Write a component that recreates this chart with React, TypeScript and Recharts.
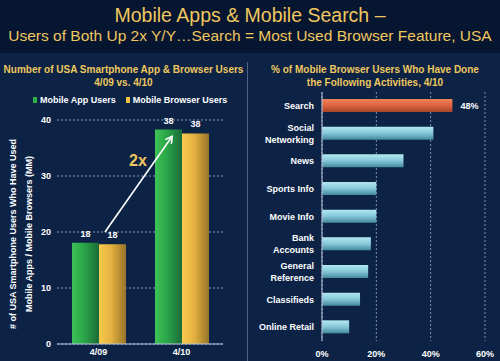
import { BarChart, Bar, XAxis, YAxis, CartesianGrid, LabelList, Cell } from "recharts";

const periods = ["4/09", "4/10"];
const appUsers = [18.1, 38.3];
const browserUsers = [17.8, 37.6];
const userTicks = [0, 10, 20, 30, 40];

const activities = [
  "Search",
  "Social\nNetworking",
  "News",
  "Sports Info",
  "Movie Info",
  "Bank\nAccounts",
  "General\nReference",
  "Classifieds",
  "Online Retail",
];
const activityPct = [48, 41, 30, 20, 20, 18, 17, 14, 10];
const pctTicks = [0, 20, 40, 60];

const usersData = periods.map((p, i) => ({ period: p, app: appUsers[i], browser: browserUsers[i] }));
const activityData = activities.map((a, i) => ({
  name: a,
  pct: activityPct[i],
  label: i === 0 ? `${activityPct[i]}%` : undefined,
}));

const GOLD = "#efc75e";
const BG = "#0c2346";
const FONT = "'Liberation Sans', Arial, sans-serif";

const ActivityTick = (props: any) => {
  const { x, y, payload } = props;
  const lines = String(payload.value).split("\n");
  const lh = 12;
  const start = -((lines.length - 1) * lh) / 2;
  return (
    <text x={x} y={y} textAnchor="end" fill="#fff" fontSize={9} fontWeight="bold" fontFamily={FONT}>
      {lines.map((l, i) => (
        <tspan key={i} x={x} y={y + start + i * lh} dy="0.35em">
          {l}
        </tspan>
      ))}
    </text>
  );
};

export default function App() {
  const abs = (s: any) => ({ position: "absolute" as const, ...s });
  return (
    <div style={{ position: "relative", width: 500, height: 361, background: BG, fontFamily: FONT, overflow: "hidden" }}>
      <style>{`body{margin:0}`}</style>
      <div style={abs({ left: 0, top: 0, width: 500, height: 53, background: "#061530" })} />
      <div style={abs({ left: 0, top: 3, width: 500, textAlign: "center", color: GOLD, fontSize: 19.5, lineHeight: "24px" })}>
        Mobile Apps &amp; Mobile Search –
      </div>
      <div style={abs({ left: 0, top: 26, width: 500, textAlign: "center", color: GOLD, fontSize: 15.5, lineHeight: "20px" })}>
        Users of Both Up 2x Y/Y…Search = Most Used Browser Feature, USA
      </div>
      <div style={abs({ left: 247, top: 62, width: 1, height: 299, background: "#4c6284" })} />

      <div style={abs({ left: 0, top: 63, width: 247, textAlign: "center", color: GOLD, fontSize: 10, fontWeight: "bold", lineHeight: "13px" })}>
        Number of USA Smartphone App &amp; Browser Users
        <br />
        4/09 vs. 4/10
      </div>
      <div style={abs({ left: 250, top: 63, width: 250, textAlign: "center", color: GOLD, fontSize: 10, fontWeight: "bold", lineHeight: "13px" })}>
        % of Mobile Browser Users Who Have Done
        <br />
        the Following Activities, 4/10
      </div>

      <div style={abs({ left: 33, top: 95, color: "#fff", fontSize: 9, fontWeight: "bold", display: "flex", alignItems: "center", gap: 10, whiteSpace: "nowrap" })}>
        <span style={{ display: "flex", alignItems: "center", gap: 3 }}>
          <span style={{ width: 4, height: 6, background: "#2fb04a", display: "inline-block" }} />
          Mobile App Users
        </span>
        <span style={{ display: "flex", alignItems: "center", gap: 3 }}>
          <span style={{ width: 4, height: 6, background: "#f0c048", display: "inline-block" }} />
          Mobile Browser Users
        </span>
      </div>

      <div
        style={abs({
          left: 21,
          top: 232,
          width: 0,
          height: 0,
          color: "#fff",
          fontSize: 9,
          fontWeight: "bold",
        })}
      >
        <div style={{ position: "absolute", left: -110, top: -14, width: 220, textAlign: "center", transform: "rotate(-90deg)", lineHeight: "16px", whiteSpace: "nowrap" }}>
          # of USA Smartphone Users Who Have Used
          <br />
          Mobile Apps / Mobile Browsers (MM)
        </div>
      </div>

      <div style={abs({ left: 0, top: 0 })}>
        <BarChart width={247} height={361} data={usersData} margin={{ top: 120, right: 24, left: 37, bottom: 0 }} barGap={0}>
          <defs>
            <linearGradient id="gGreen" x1="0" y1="0" x2="1" y2="0">
              <stop offset="0%" stopColor="#3cc257" />
              <stop offset="45%" stopColor="#2aa548" />
              <stop offset="100%" stopColor="#1a6a38" />
            </linearGradient>
            <linearGradient id="gYellow" x1="0" y1="0" x2="1" y2="0">
              <stop offset="0%" stopColor="#f7ca4c" />
              <stop offset="45%" stopColor="#e4b140" />
              <stop offset="100%" stopColor="#977428" />
            </linearGradient>
          </defs>
          <CartesianGrid vertical={false} stroke="#7f93b3" strokeDasharray="2 2" />
          <XAxis
            dataKey="period"
            height={17}
            tickSize={3}
            tickLine={false}
            stroke="#b8c4d8"
            tick={{ fill: "#fff", fontSize: 9, fontWeight: "bold", fontFamily: FONT }}
          />
          <YAxis
            width={20}
            domain={[0, 40]}
            ticks={userTicks}
            axisLine={false}
            tickLine={false}
            tickSize={4}
            tick={{ fill: "#fff", fontSize: 9, fontWeight: "bold", fontFamily: FONT }}
          />
          <Bar dataKey="app" fill="url(#gGreen)" barSize={27} isAnimationActive={false}>
            <LabelList dataKey="app" position="top" offset={6} formatter={(v: any) => Math.round(Number(v))} fill="#fff" fontSize={9} fontWeight="bold" fontFamily={FONT} />
          </Bar>
          <Bar dataKey="browser" fill="url(#gYellow)" barSize={27} isAnimationActive={false}>
            <LabelList dataKey="browser" position="top" offset={6} formatter={(v: any) => Math.round(Number(v))} fill="#fff" fontSize={9} fontWeight="bold" fontFamily={FONT} />
          </Bar>
        </BarChart>
      </div>

      <svg style={abs({ left: 0, top: 0 })} width={247} height={361}>
        <defs>
          <marker id="arrowHead" markerWidth="8" markerHeight="8" refX="5" refY="4" orient="auto" markerUnits="userSpaceOnUse">
            <path d="M0,0 L7,4 L0,8" fill="none" stroke="#fff" strokeWidth={1.6} />
          </marker>
        </defs>
        <line x1={105} y1={232} x2={171} y2={138} stroke="#fff" strokeWidth={1.6} markerEnd="url(#arrowHead)" />
        <text x={138} y={166} textAnchor="middle" fill={GOLD} fontSize={16} fontWeight="bold" fontFamily={FONT}>
          2x
        </text>
      </svg>

      <div style={abs({ left: 247, top: 0 })}>
        <BarChart
          layout="vertical"
          width={253}
          height={361}
          data={activityData}
          margin={{ top: 92, right: 15, left: 0, bottom: 0 }}
        >
          <defs>
            <linearGradient id="gCyan" x1="0" y1="0" x2="0" y2="1">
              <stop offset="0%" stopColor="#b2e8f3" />
              <stop offset="50%" stopColor="#86c8d8" />
              <stop offset="100%" stopColor="#44889c" />
            </linearGradient>
            <linearGradient id="gOrange" x1="0" y1="0" x2="0" y2="1">
              <stop offset="0%" stopColor="#f08058" />
              <stop offset="50%" stopColor="#dc6440" />
              <stop offset="100%" stopColor="#a84426" />
            </linearGradient>
          </defs>
          <CartesianGrid horizontal={false} stroke="#7f93b3" strokeDasharray="2 2" />
          <XAxis
            type="number"
            domain={[0, 60]}
            ticks={pctTicks}
            tickFormatter={(v: number) => `${v}%`}
            height={20}
            tickSize={8}
            axisLine={false}
            tickLine={false}
            tick={{ fill: "#fff", fontSize: 9, fontWeight: "bold", fontFamily: FONT }}
          />
          <YAxis
            type="category"
            dataKey="name"
            width={75}
            interval={0}
            tickLine={false}
            stroke="#b8c4d8"
            tick={<ActivityTick />}
          />
          <Bar dataKey="pct" barSize={13} isAnimationActive={false}>
            {activityData.map((d, i) => (
              <Cell key={d.name} fill={i === 0 ? "url(#gOrange)" : "url(#gCyan)"} />
            ))}
            <LabelList dataKey="label" position="right" offset={8} fill="#fff" fontSize={9} fontWeight="bold" fontFamily={FONT} />
          </Bar>
        </BarChart>
      </div>
    </div>
  );
}
